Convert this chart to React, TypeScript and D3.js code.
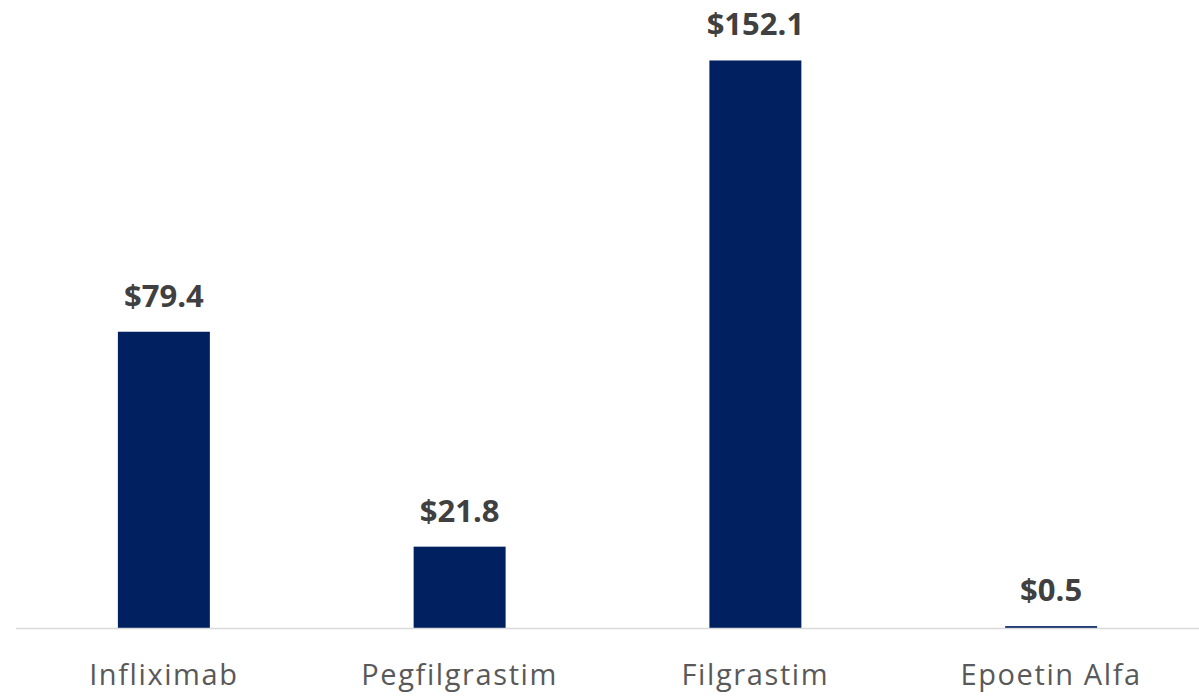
import { useEffect, useRef } from 'react'
import * as d3 from 'd3'

const categories = ['Infliximab', 'Pegfilgrastim', 'Filgrastim', 'Epoetin Alfa']
const values = [79.4, 21.8, 152.1, 0.5]
const valueLabels = ['$79.4', '$21.8', '$152.1', '$0.5']

const width = 1199
const height = 696
const margin = { top: 31, right: 0, bottom: 68, left: 16 }

const App = () => {
  const svgRef = useRef<SVGSVGElement | null>(null)

  useEffect(() => {
    if (!svgRef.current) return
    const svg = d3.select(svgRef.current)
    svg.selectAll('*').remove()

    const innerW = width - margin.left - margin.right
    const baseY = height - margin.bottom

    const x = d3.scaleBand<string>()
      .domain(categories)
      .range([margin.left, margin.left + innerW])
      .paddingInner(0.689)
      .paddingOuter(0.3445)

    const y = d3.scaleLinear()
      .domain([0, 160])
      .range([baseY, margin.top])

    const data = categories.map((c, i) => ({ cat: c, value: values[i], label: valueLabels[i] }))

    // bars
    svg.append('g')
      .selectAll('rect')
      .data(data)
      .enter()
      .append('rect')
      .attr('x', d => x(d.cat)!)
      .attr('y', d => y(d.value))
      .attr('width', x.bandwidth())
      .attr('height', d => y(0) - y(d.value))
      .attr('fill', '#002060')

    // baseline
    svg.append('line')
      .attr('x1', margin.left)
      .attr('x2', width - margin.right)
      .attr('y1', baseY + 0.5)
      .attr('y2', baseY + 0.5)
      .attr('stroke', '#d9d9d9')
      .attr('stroke-width', 1.5)

    // value labels
    svg.append('g')
      .selectAll('text')
      .data(data)
      .enter()
      .append('text')
      .attr('x', d => x(d.cat)! + x.bandwidth() / 2)
      .attr('y', d => y(d.value) - 25)
      .attr('text-anchor', 'middle')
      .attr('font-family', '"Open Sans", sans-serif')
      .attr('font-weight', 700)
      .attr('font-size', 31)
      .attr('fill', '#404040')
      .text(d => d.label)

    // category labels
    svg.append('g')
      .selectAll('text')
      .data(data)
      .enter()
      .append('text')
      .attr('x', d => x(d.cat)! + x.bandwidth() / 2)
      .attr('y', baseY + 57)
      .attr('text-anchor', 'middle')
      .attr('font-family', '"Open Sans", sans-serif')
      .attr('font-size', 29)
      .attr('letter-spacing', 1.6)
      .attr('fill', '#595959')
      .text(d => d.cat)
  }, [])

  return (
    <svg
      ref={svgRef}
      width={width}
      height={height}
      style={{ position: 'absolute', top: 0, left: 0, background: '#fff' }}
    />
  )
}

export default App
